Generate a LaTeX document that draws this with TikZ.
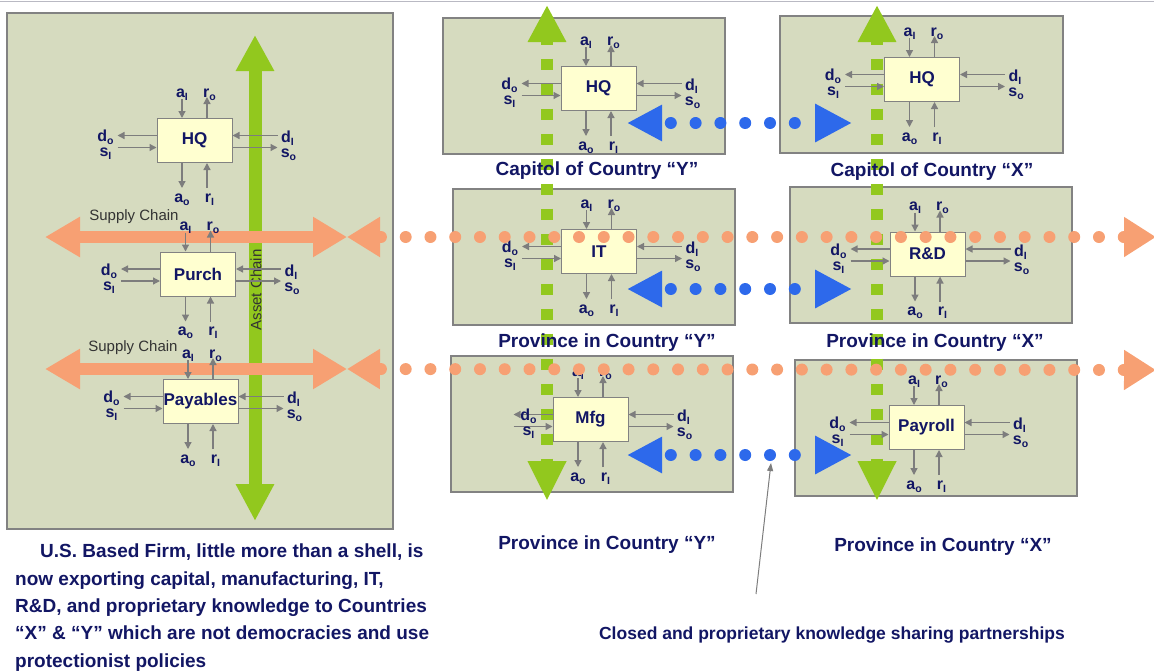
\documentclass[tikz,border=0pt]{standalone}
\usepackage{fontspec}
\setmainfont{Liberation Sans}
\usetikzlibrary{arrows.meta}

\definecolor{regionfill}{RGB}{214,219,191}
\definecolor{regionedge}{RGB}{130,130,130}
\definecolor{unitfill}{RGB}{255,255,208}
\definecolor{flowgray}{RGB}{125,125,125}
\definecolor{navy}{RGB}{18,22,100}
\definecolor{assetgreen}{RGB}{146,200,30}
\definecolor{supplyorange}{RGB}{247,160,115}
\definecolor{partnerblue}{RGB}{45,105,235}
\definecolor{topline}{RGB}{185,185,195}

% port label: letter with small subscript
\newcommand{\pl}[2]{#1\raisebox{-3pt}{\fontsize{10.5}{10.5}\selectfont #2}}

% business unit: box and its eight in/out flows
% #1 name, #2 centre, #3 text, #4 distance of the left labels
\newcommand{\flowunit}[4]{%
  \node[unitbox] (#1) at (#2) {#3};
  % top
  \coordinate (#1-ai) at ([xshift=-12.5pt,yshift=19pt]#1.north);
  \coordinate (#1-ro) at ([xshift=12.5pt,yshift=21pt]#1.north);
  \draw[flow] (#1-ai) -- (#1-ai |- #1.north);
  \draw[flow] (#1-ro |- #1.north) -- (#1-ro);
  \node[port] (#1-ailab) at ([xshift=-12.5pt,yshift=21pt]#1.north) {\pl{a}{I}};
  \node[port] (#1-rolab) at ([xshift=15pt,yshift=21pt]#1.north) {\pl{r}{o}};
  % bottom
  \coordinate (#1-ao) at ([xshift=-12.5pt,yshift=-25pt]#1.south);
  \coordinate (#1-ri) at ([xshift=12.5pt,yshift=-25pt]#1.south);
  \draw[flow] (#1-ao |- #1.south) -- (#1-ao);
  \draw[flow] (#1-ri) -- (#1-ri |- #1.south);
  \node[port] (#1-aolab) at ([xshift=-12.5pt,yshift=-39pt]#1.south) {\pl{a}{o}};
  \node[port] (#1-rilab) at ([xshift=15pt,yshift=-39pt]#1.south) {\pl{r}{I}};
  % left
  \coordinate (#1-do) at ([xshift=-39pt,yshift=5pt]#1.west);
  \coordinate (#1-si) at ([xshift=-39pt,yshift=-7pt]#1.west);
  \draw[flow] (#1-do -| #1.west) -- (#1-do);
  \draw[flow] (#1-si) -- (#1-si -| #1.west);
  \node[port] (#1-dolab) at ([xshift=-#4,yshift=-1pt]#1.west) {\pl{d}{o}};
  \node[port] (#1-silab) at ([xshift=-#4,yshift=-16pt]#1.west) {\pl{s}{I}};
  % right
  \coordinate (#1-di) at ([xshift=45pt,yshift=5pt]#1.east);
  \coordinate (#1-so) at ([xshift=45pt,yshift=-7pt]#1.east);
  \draw[flow] (#1-di) -- (#1-di -| #1.east);
  \draw[flow] (#1-so -| #1.east) -- (#1-so);
  \node[port] (#1-dilab) at ([xshift=55pt,yshift=-2pt]#1.east) {\pl{d}{I}};
  \node[port] (#1-solab) at ([xshift=56pt,yshift=-17pt]#1.east) {\pl{s}{o}};
}

\tikzset{
  region/.style={draw=regionedge, fill=regionfill, line width=1.2pt},
  unitbox/.style={draw=regionedge, fill=unitfill, line width=1pt, minimum width=75pt,
    minimum height=44pt, inner sep=0pt, text=navy, font=\fontsize{17}{17}\selectfont\bfseries},
  flow/.style={draw=flowgray, line width=1.3pt, -{Triangle[length=7pt,width=7pt]}},
  port/.style={anchor=base, inner sep=0pt, text=navy, font=\fontsize{16}{16}\selectfont\bfseries},
  assetchain/.style={draw=assetgreen, line width=13pt,
    {Triangle[length=37pt,width=36pt]}-{Triangle[length=36pt,width=36pt]}},
  assetdash/.style={draw=assetgreen, line width=12pt, dash pattern=on 11pt off 14pt, dash phase=6pt,
    {Triangle[length=37pt,width=36pt]}-{Triangle[length=40pt,width=36pt]}},
  supplychain/.style={draw=supplyorange, line width=12pt,
    {Triangle[length=35pt,width=38pt]}-{Triangle[length=34pt,width=38pt]}},
  supplydots/.style={draw=supplyorange, line width=12pt, line cap=round,
    dash pattern=on 0pt off 24.76pt, dash phase=21.76pt,
    {Triangle[length=33pt,width=38pt]}-{Triangle[length=32pt,width=38pt]}},
  partner/.style={draw=partnerblue, line width=12pt, line cap=round,
    dash pattern=on 0pt off 24.8pt, dash phase=13.8pt,
    {Triangle[length=35pt,width=34pt]}-{Triangle[length=37pt,width=36pt]}},
  note/.style={draw=flowgray, line width=1pt, -{Triangle[length=8pt,width=6pt]}},
  chainlabel/.style={inner sep=0pt, text=black!80, font=\fontsize{15}{15}\selectfont},
  caption/.style={inner sep=0pt, text=navy, font=\fontsize{19}{19}\selectfont\bfseries},
}

\begin{document}
\begin{tikzpicture}[x=1pt,y=-1pt]
\useasboundingbox (0,0) rectangle (1154,670);
\draw[topline, line width=1.5pt] (0,1.5) -- (1154,1.5);

% regions
\draw[region] (7,13) rectangle (393,529);
\draw[region] (443,18) rectangle (725,154);
\draw[region] (780,16) rectangle (1063,153);
\draw[region] (453,189) rectangle (735,325);
\draw[region] (790,187) rectangle (1072,323);
\draw[region] (451,356) rectangle (733,492);
\draw[region] (795,360) rectangle (1077,496);

% US firm: asset chain and supply chains
\coordinate (acTop) at (255,35);
\coordinate (acBot) at (255,521);
\draw[assetchain] (acBot) -- (acTop);
\node[chainlabel, rotate=90] (aclab) at (256,290) {Asset Chain};

\coordinate (sc1W) at (45,237);
\coordinate (sc1E) at (347,237);
\draw[supplychain] (sc1W) -- (sc1E);
\node[chainlabel] (sc1lab) at (134,217) {Supply Chain};
\coordinate (sc2W) at (45,369);
\coordinate (sc2E) at (347,369);
\draw[supplychain] (sc2W) -- (sc2E);
\node[chainlabel] (sc2lab) at (133,348) {Supply Chain};

% asset chain abroad
\coordinate (gyTop) at (547,5);
\coordinate (gyBot) at (547,501);
\draw[assetdash] (gyTop) -- (gyBot);
\coordinate (gxTop) at (877,5);
\coordinate (gxBot) at (877,501);
\draw[assetdash] (gxTop) -- (gxBot);

% units
\flowunit{hqus}{194.5,140.5}{HQ}{51pt}
\flowunit{purch}{198,274}{Purch}{51pt}
\flowunit{payables}{200.5,401.5}{Payables}{51pt}
\flowunit{hqy}{598.5,88.5}{HQ}{51pt}
\flowunit{hqx}{922,79.5}{HQ}{51pt}
\flowunit{it}{599,251.5}{IT}{51pt}
\flowunit{rnd}{927.5,254}{R\&D}{51pt}
\flowunit{mfg}{590.5,419.5}{Mfg}{24pt}
\flowunit{payroll}{926.5,427.5}{Payroll}{51pt}

% supply chains abroad
\coordinate (od1W) at (347,237);
\coordinate (od1E) at (1156,237);
\draw[supplydots] (od1W) -- (od1E);
\coordinate (od2W) at (347,369);
\coordinate (od2E) at (1156,370);
\draw[supplydots] (od2W) -- (od2E);

% knowledge partnerships
\coordinate (pt1W) at (627,123);
\coordinate (pt1E) at (852,123);
\draw[partner] (pt1W) -- (pt1E);
\coordinate (pt2W) at (627,289);
\coordinate (pt2E) at (852,289);
\draw[partner] (pt2W) -- (pt2E);
\coordinate (pt3W) at (627,455);
\coordinate (pt3E) at (852,455);
\draw[partner] (pt3W) -- (pt3E);

% captions
\node[caption] (capYlab) at (597,171) {Capitol of Country “Y”};
\node[caption] (capXlab) at (932,172) {Capitol of Country “X”};
\node[caption] (prY1lab) at (607,343) {Province in Country “Y”};
\node[caption] (prX1lab) at (935,343) {Province in Country “X”};
\node[caption] (prY2lab) at (607,545) {Province in Country “Y”};
\node[caption] (prX2lab) at (943,547) {Province in Country “X”};

\node[caption, font=\fontsize{17.5}{17.5}\selectfont\bfseries] (partnerlab) at (832,635)
  {Closed and proprietary knowledge sharing partnerships};
\coordinate (noteTail) at (756,594);
\coordinate (pt3dot) at (771,463);
\draw[note] (noteTail) -- (pt3dot);

\node[caption, anchor=north west, align=left, font=\fontsize{19}{27.3}\selectfont\bfseries] (firmnote) at (15,544)
  {\hspace*{25pt}U.S. Based Firm, little more than a shell, is\\
   now exporting capital, manufacturing, IT,\\
   R\&D, and proprietary knowledge to Countries\\
   “X” \& “Y” which are not democracies and use\\
   protectionist policies};
\end{tikzpicture}
\end{document}
